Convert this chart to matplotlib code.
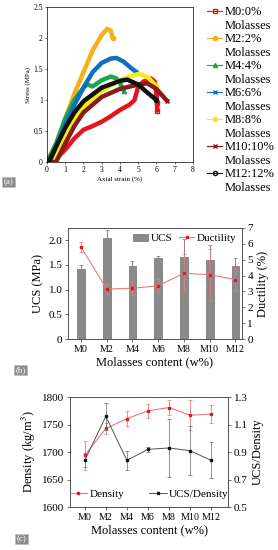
import matplotlib
matplotlib.use("Agg")
import matplotlib.pyplot as plt
from matplotlib.patches import Patch
from matplotlib.lines import Line2D

plt.rcParams["font.family"] = ["Liberation Serif", "DejaVu Serif"]
plt.rcParams["mathtext.fontset"] = "stix"

# ---- panel (a): stress-strain curves ----
curve_names = ["M0:0%", "M2:2%", "M4:4%", "M6:6%", "M8:8%", "M10:10%", "M12:12%"]
m0_strain = [0.0, 0.5, 1.0, 1.5, 2.0, 2.5, 3.0, 3.5, 4.0, 4.5, 4.8, 5.0, 5.3, 5.7, 5.9, 6.0, 6.03, 6.05]
m0_stress = [0.0, 0.05, 0.2, 0.38, 0.52, 0.58, 0.65, 0.74, 0.84, 0.92, 1.0, 1.22, 1.3, 1.35, 1.3, 1.1, 0.95, 0.83]
m2_strain = [0.0, 0.3, 0.6, 1.0, 1.5, 2.0, 2.5, 3.0, 3.3, 3.5, 3.6]
m2_stress = [0.0, 0.02, 0.3, 0.7, 1.1, 1.45, 1.8, 2.05, 2.15, 2.12, 2.0]
m4_strain = [0.0, 0.5, 1.0, 1.5, 2.0, 2.2, 2.5, 3.0, 3.5, 3.8, 4.0, 4.2]
m4_stress = [0.0, 0.3, 0.7, 1.0, 1.2, 1.25, 1.22, 1.32, 1.38, 1.35, 1.28, 1.15]
m6_strain = [0.0, 0.2, 0.6, 1.0, 1.5, 2.0, 2.5, 3.0, 3.5, 3.8, 4.2, 4.6, 4.9]
m6_stress = [0.0, 0.0, 0.3, 0.6, 0.92, 1.2, 1.45, 1.6, 1.67, 1.68, 1.62, 1.52, 1.45]
m8_strain = [0.0, 0.4, 1.0, 1.5, 2.0, 3.0, 4.0, 4.5, 5.0, 5.3, 5.6, 6.0]
m8_stress = [0.0, 0.0, 0.4, 0.68, 0.9, 1.15, 1.32, 1.38, 1.42, 1.4, 1.35, 1.22]
m10_strain = [0.0, 0.5, 1.0, 1.5, 2.0, 3.0, 4.0, 5.0, 5.5, 6.0, 6.3, 6.6]
m10_stress = [0.0, 0.0, 0.3, 0.58, 0.8, 1.05, 1.18, 1.25, 1.27, 1.18, 1.08, 0.98]
m12_strain = [0.0, 0.1, 0.5, 1.0, 1.5, 2.0, 3.0, 4.0, 4.4, 5.0, 5.5, 6.0]
m12_stress = [0.0, 0.0, 0.25, 0.55, 0.8, 0.98, 1.2, 1.31, 1.33, 1.25, 1.12, 1.0]

# ---- panel (b): UCS and ductility ----
groups = ["M0", "M2", "M4", "M6", "M8", "M10", "M12"]
ucs = [1.42, 2.04, 1.47, 1.64, 1.67, 1.61, 1.48]
ucs_err = [0.08, 0.17, 0.12, 0.05, 0.36, 0.29, 0.17]
ductility = [5.8, 3.15, 3.2, 3.35, 4.15, 4.05, 3.75]
ductility_err = [0.3, 0.3, 0.45, 0.45, 1.2, 1.65, 0.75]

# ---- panel (c): density and UCS/density ----
density = [1694, 1743, 1761, 1775, 1781, 1767, 1769]
density_err = [27, 10, 14, 13, 14, 27, 17]
ucs_density = [0.84, 1.16, 0.84, 0.92, 0.93, 0.91, 0.84]
ucs_density_err = [0.05, 0.10, 0.07, 0.02, 0.21, 0.18, 0.13]

fig = plt.figure(figsize=(2.78, 5.5), dpi=100)

# panel (a)
ax1 = fig.add_axes([0.169, 0.7055, 0.525, 0.2815])
curves = [
    (m0_strain, m0_stress, "#e8141c", "s", "none", [-3, -2, -1]),
    (m2_strain, m2_stress, "#f5b01a", "o", "#f5b01a", [-1]),
    (m4_strain, m4_stress, "#1ca64c", "^", "#1ca64c", [-1]),
    (m6_strain, m6_stress, "#0f6fc0", "x", "#0f6fc0", [-1]),
    (m8_strain, m8_stress, "#f2ec12", "o", "#f2ec12", [-1]),
    (m10_strain, m10_stress, "#8b1a1a", "x", "#8b1a1a", [-1]),
    (m12_strain, m12_stress, "#111111", "o", "none", [-1]),
]
draw_order = [1, 3, 2, 4, 5, 6, 0]
for i in draw_order:
    x, y, c, mk, mfc, me = curves[i]
    ax1.plot(x, y, color=c, lw=3.2, marker=mk, mfc=mfc, mec=c, ms=3, markevery=me,
             solid_capstyle="round", zorder=2 + i * 0.1)
ax1.set_xlim(0, 8)
ax1.set_ylim(0, 2.5)
ax1.set_xticks(range(0, 9))
ax1.set_yticks([0, 0.5, 1, 1.5, 2, 2.5])
ax1.set_yticklabels(["0", "0.5", "1", "1.5", "2", "2.5"])
ax1.tick_params(labelsize=5.5, length=1.5, width=0.4, pad=1.5)
ax1.set_xlabel("Axial strain (%)", fontsize=5, labelpad=1.5)
ax1.set_ylabel("Stress (MPa)", fontsize=5, labelpad=2)
for s in ax1.spines.values():
    s.set_linewidth(0.5)

# legend: name on one row, "Molasses" on the next row without a handle
handles, labels = [], []
for (_, _, c, mk, mfc, _), name in zip(curves, curve_names):
    handles.append(Line2D([], [], color=c, lw=0.8, marker=mk, mfc=mfc, mec=c, ms=3))
    labels.append(name)
    handles.append(Line2D([], [], color="none"))
    labels.append("Molasses")
fig.legend(handles, labels, loc="upper left", bbox_to_anchor=(0.728, 0.998),
           fontsize=9, frameon=False, labelspacing=0.12, handlelength=1.2,
           handletextpad=0.15, borderaxespad=0)

# panel (b)
ax2 = fig.add_axes([0.245, 0.3836, 0.625, 0.2019])
pos = list(range(len(groups)))
ax2.bar(pos, ucs, width=0.3, color="#8a8a8a", edgecolor="#5a5a5a", lw=0.4,
        yerr=ucs_err, error_kw=dict(ecolor="#8a8a8a", elinewidth=0.8, capsize=1.5, capthick=0.6),
        zorder=2)
ax2.set_xlim(-0.5, 6.25)
ax2.set_ylim(0, 2.25)
ax2.set_yticks([0, 0.5, 1.0, 1.5, 2.0])
ax2.set_yticklabels(["0", "0.5", "1.0", "1.5", "2.0"])
ax2.set_xticks(pos)
ax2.set_xticklabels(groups)
ax2.set_ylabel("UCS (MPa)", fontsize=9, labelpad=3)
ax2.set_xlabel("Molasses content (w%)", fontsize=9, labelpad=2)
ax2.tick_params(axis="y", labelsize=8, length=2, width=0.4, pad=2)
ax2.tick_params(axis="x", labelsize=7.2, length=2, width=0.4, pad=2)
ax2b = ax2.twinx()
ax2b.errorbar(pos, ductility, yerr=ductility_err, color="#ec7a7a", lw=0.8, marker="s",
              ms=2, mfc="#e8141c", mec="#e8141c", ecolor="#ec7a7a", elinewidth=0.6,
              capsize=1.5, capthick=0.5)
ax2b.set_ylim(0, 7)
ax2b.set_yticks(range(0, 8))
ax2b.set_ylabel("Ductility (%)", fontsize=9, labelpad=3)
ax2b.tick_params(labelsize=8, length=2, width=0.4, pad=2)
for a in (ax2, ax2b):
    for s in a.spines.values():
        s.set_linewidth(0.5)
        s.set_color("#444444")
leg_b = [Patch(facecolor="#8a8a8a", edgecolor="#5a5a5a", lw=0.4),
         Line2D([], [], color="#ec7a7a", lw=0.8, marker="s", ms=2, mfc="#e8141c", mec="#e8141c")]
ax2b.legend(leg_b, ["UCS", "Ductility"], loc="upper right", ncol=2, fontsize=8,
            frameon=False, handlelength=1.4, handletextpad=0.2, columnspacing=0.6,
            borderaxespad=0.1)

# panel (c)
ax3 = fig.add_axes([0.252, 0.078, 0.568, 0.2])
ax3.errorbar(pos, density, yerr=density_err, color="#ec7a7a", lw=0.8, marker="s", ms=2,
             mfc="#e8141c", mec="#e8141c", ecolor="#ec7a7a", elinewidth=0.6,
             capsize=1.5, capthick=0.5, label="Density")
ax3.set_xlim(-0.7, 6.8)
ax3.set_ylim(1600, 1800)
ax3.set_yticks([1600, 1650, 1700, 1750, 1800])
ax3.set_xticks(pos)
ax3.set_xticklabels(groups)
ax3.set_ylabel("Density (kg/m$^3$)", fontsize=9, labelpad=3)
ax3.set_xlabel("Molasses content (w%)", fontsize=9, labelpad=2)
ax3.tick_params(axis="y", labelsize=8, length=2, width=0.4, pad=2)
ax3.tick_params(axis="x", labelsize=7.2, length=2, width=0.4, pad=2)
ax3b = ax3.twinx()
ax3b.errorbar(pos, ucs_density, yerr=ucs_density_err, color="#555555", lw=0.7, marker="s",
              ms=1.8, mfc="#111111", mec="#111111", ecolor="#666666", elinewidth=0.5,
              capsize=1.5, capthick=0.5, label="UCS/Density")
ax3b.set_ylim(0.5, 1.3)
ax3b.set_yticks([0.5, 0.7, 0.9, 1.1, 1.3])
ax3b.set_ylabel("UCS/Density", fontsize=9, labelpad=3)
ax3b.tick_params(labelsize=8, length=2, width=0.4, pad=2)
for a in (ax3, ax3b):
    for s in a.spines.values():
        s.set_linewidth(0.5)
        s.set_color("#444444")
leg_c = [Line2D([], [], color="#ec7a7a", lw=0.8, marker="s", ms=2, mfc="#e8141c", mec="#e8141c"),
         Line2D([], [], color="#555555", lw=0.7, marker="s", ms=1.8, mfc="#111111", mec="#111111")]
ax3b.legend(leg_c, ["Density", "UCS/Density"], loc="lower center", ncol=2, fontsize=8,
            frameon=False, handlelength=1.6, handletextpad=0.2, columnspacing=2.2,
            borderaxespad=0.3)

# panel tags
box = dict(boxstyle="square,pad=0.15", facecolor="#8c8c8c", edgecolor="#bbbbbb", lw=0.5)
fig.text(0.012, 1 - 182 / 550, "(a)", fontsize=6.5, color="white", va="center", bbox=box)
fig.text(0.055, 1 - 370 / 550, "(b)", fontsize=6.5, color="white", va="center", bbox=box)
fig.text(0.06, 1 - 539 / 550, "(c)", fontsize=6.5, color="white", va="center", bbox=box)

fig.savefig("out.png", dpi=100, facecolor="white")
